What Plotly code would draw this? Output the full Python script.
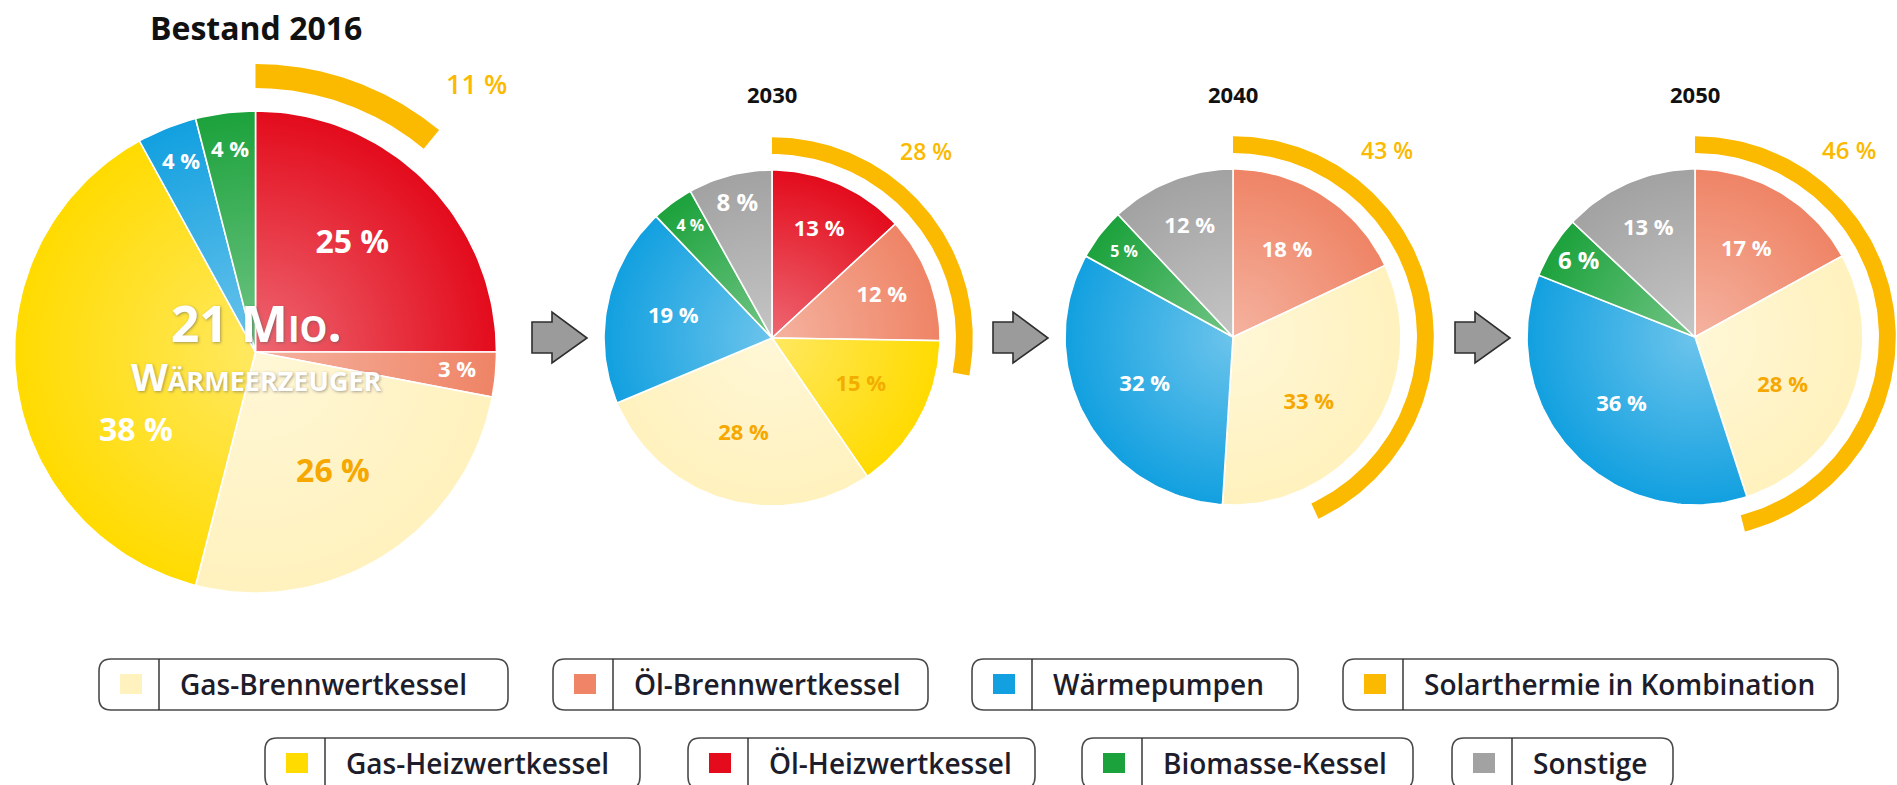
import math
import plotly.graph_objects as go

W, H = 1897, 785

# ------------------------------------------------------------------ data
legend_categories = ["Gas-Brennwertkessel", "Öl-Brennwertkessel", "Wärmepumpen",
                     "Solarthermie in Kombination", "Gas-Heizwertkessel",
                     "Öl-Heizwertkessel", "Biomasse-Kessel", "Sonstige"]
pie_titles = ["Bestand 2016", "2030", "2040", "2050"]

slices_2016 = ["Öl-Heizwertkessel", "Öl-Brennwertkessel", "Gas-Brennwertkessel",
               "Gas-Heizwertkessel", "Wärmepumpen", "Biomasse-Kessel"]
values_2016 = [25, 3, 26, 38, 4, 4]

slices_2030 = ["Öl-Heizwertkessel", "Öl-Brennwertkessel", "Gas-Heizwertkessel",
               "Gas-Brennwertkessel", "Wärmepumpen", "Biomasse-Kessel", "Sonstige"]
values_2030 = [13, 12, 15, 28, 19, 4, 8]

slices_2040 = ["Öl-Brennwertkessel", "Gas-Brennwertkessel", "Wärmepumpen",
               "Biomasse-Kessel", "Sonstige"]
values_2040 = [18, 33, 32, 5, 12]

slices_2050 = ["Öl-Brennwertkessel", "Gas-Brennwertkessel", "Wärmepumpen",
               "Biomasse-Kessel", "Sonstige"]
values_2050 = [17, 28, 36, 6, 13]

solar_share = [11, 28, 43, 46]          # "Solarthermie in Kombination" arc (%)
stock_number = "21 Mio."
stock_unit = "Wärmeerzeuger"

# ------------------------------------------------------------------ styles
COLORS = {
    "Gas-Brennwertkessel": "#FFF2BE",
    "Öl-Brennwertkessel": "#EF8466",
    "Wärmepumpen": "#12A0E0",
    "Solarthermie in Kombination": "#FBB900",
    "Gas-Heizwertkessel": "#FFDB00",
    "Öl-Heizwertkessel": "#E30B1C",
    "Biomasse-Kessel": "#1CA23C",
    "Sonstige": "#A2A2A2",
}
ORANGE_TXT = "#F6A800"
FONT = "Open Sans, Lato, Noto Sans, sans-serif"

# pie geometry in pixels (centre, radius)
PIES = [dict(cx=255.5, cy=352, r=241),
        dict(cx=772, cy=338, r=168),
        dict(cx=1233, cy=337, r=168),
        dict(cx=1695, cy=337, r=168)]
TITLE_Y = [27, 94, 94, 94]
TITLE_SIZE = [32, 22, 22, 22]
ARC_IN, ARC_OUT = 1.095, 1.195
SOLAR_LABEL_POS = (0.915, 1.115)
SOLAR_LABEL_SIZE = [27, 23, 23, 24]
ANGLE_TWEAK = {(0, "Gas-Heizwertkessel"): -27, (2, "Gas-Brennwertkessel"): 7,
               (3, "Gas-Brennwertkessel"): 8, (0, "Öl-Heizwertkessel"): -3}
LABEL_COLOR_OVERRIDE = {(1, "Gas-Heizwertkessel"): "#F2AE00"}

pie_data = [(slices_2016, values_2016), (slices_2030, values_2030),
            (slices_2040, values_2040), (slices_2050, values_2050)]

fig = go.Figure()
layout_axes = {}


def axis_name(i, kind):
    return kind if i == 0 else f"{kind}{i + 1}"


M = 1.45
for i, p in enumerate(PIES):
    cx, cy, r = p["cx"], p["cy"], p["r"]
    left, right = max(0, cx - M * r), min(W, cx + M * r)
    top, bottom = max(0, cy - M * r), min(H, cy + M * r)
    xa = dict(domain=[left / W, right / W], range=[(left - cx) / r, (right - cx) / r],
              visible=False, fixedrange=True, anchor=axis_name(i, "y"))
    ya = dict(domain=[1 - bottom / H, 1 - top / H], range=[-(bottom - cy) / r, (cy - top) / r],
              visible=False, fixedrange=True, anchor=axis_name(i, "x"))
    layout_axes["xaxis" if i == 0 else f"xaxis{i + 1}"] = xa
    layout_axes["yaxis" if i == 0 else f"yaxis{i + 1}"] = ya

# overlay axis in pixel units for arrows, titles and key
layout_axes["xaxis5"] = dict(domain=[0, 1], range=[0, W], visible=False, fixedrange=True, anchor="y5")
layout_axes["yaxis5"] = dict(domain=[0, 1], range=[H, 0], visible=False, fixedrange=True, anchor="x5")


def arc_pts(a0, a1, rad, n):
    pts = []
    for k in range(n + 1):
        t = a0 + (a1 - a0) * k / n
        ang = 2 * math.pi * t
        pts.append((rad * math.sin(ang), rad * math.cos(ang)))
    return pts


for i, (cats, vals) in enumerate(pie_data):
    xr, yr = axis_name(i, "x"), axis_name(i, "y")
    total = float(sum(vals))
    start = 0.0
    lx, ly, ltxt, lsize, lcol = [], [], [], [], []
    for cat, v in zip(cats, vals):
        frac = v / total
        pts = [(0.0, 0.0)] + arc_pts(start, start + frac, 1.0, max(8, int(frac * 240))) + [(0.0, 0.0)]
        fig.add_trace(go.Scatter(
            x=[q[0] for q in pts], y=[q[1] for q in pts], xaxis=xr, yaxis=yr,
            mode="lines", fill="toself", fillcolor=COLORS[cat],
            line=dict(color="white", width=1.6), name=cat,
            hoveron="fills", hoverinfo="text", text=f"{pie_titles[i]}: {cat} {v} %",
            showlegend=False))
        mid = (start + frac / 2) * 360 + ANGLE_TWEAK.get((i, cat), 0)
        rad = 0.6 if v >= 15 else (0.7 if v >= 10 else 0.82)
        if i == 0 and v < 10:
            rad = 0.84
        lx.append(rad * math.sin(math.radians(mid)))
        ly.append(rad * math.cos(math.radians(mid)))
        ltxt.append(f"{v} %")
        if i == 0:
            lsize.append(32 if v >= 10 else 22)
        else:
            lsize.append(22 if v >= 10 else (24 if v >= 6 else 16))
        if (i, cat) in LABEL_COLOR_OVERRIDE:
            lcol.append(LABEL_COLOR_OVERRIDE[(i, cat)])
        elif cat == "Gas-Brennwertkessel":
            lcol.append(ORANGE_TXT)
        else:
            lcol.append("white")
        start += frac

    # soft radial highlight like the reference shading
    circ = arc_pts(0, 1, 1.0, 240)
    fig.add_trace(go.Scatter(
        x=[q[0] for q in circ], y=[q[1] for q in circ], xaxis=xr, yaxis=yr,
        mode="none", fill="toself", fillcolor="rgba(255,255,255,0)",
        fillgradient=dict(type="radial",
                          colorscale=[[0, "rgba(255,255,255,0.38)"], [1, "rgba(255,255,255,0)"]]),
        hoverinfo="skip", showlegend=False))

    # solar thermal arc
    s = solar_share[i] / 100.0
    outer = arc_pts(0, s, ARC_OUT, 120)
    inner = arc_pts(0, s, ARC_IN, 120)[::-1]
    ring = outer + inner + [outer[0]]
    fig.add_trace(go.Scatter(
        x=[q[0] for q in ring], y=[q[1] for q in ring], xaxis=xr, yaxis=yr,
        mode="lines", fill="toself", fillcolor=COLORS["Solarthermie in Kombination"],
        line=dict(width=0, color=COLORS["Solarthermie in Kombination"]),
        hoveron="fills", hoverinfo="text",
        text=f"{pie_titles[i]}: Solarthermie in Kombination {solar_share[i]} %",
        showlegend=False))

    # slice labels
    fig.add_trace(go.Scatter(
        x=lx, y=ly, xaxis=xr, yaxis=yr, mode="text", text=ltxt,
        textposition="middle center",
        textfont=dict(family=FONT, size=lsize, color=lcol, weight="bold"),
        hoverinfo="skip", showlegend=False, cliponaxis=False))

    # solar share label
    fig.add_annotation(x=SOLAR_LABEL_POS[0], y=SOLAR_LABEL_POS[1], xref=xr, yref=yr,
                       text=f"{solar_share[i]} %", showarrow=False,
                       font=dict(family=FONT, size=SOLAR_LABEL_SIZE[i],
                                 color=COLORS["Solarthermie in Kombination"], weight=600))
    # pie title
    fig.add_annotation(x=PIES[i]["cx"], y=TITLE_Y[i], xref="x5", yref="y5",
                       text=f"<b>{pie_titles[i]}</b>", showarrow=False,
                       font=dict(family=FONT, size=TITLE_SIZE[i], color="#111111"))

# centre text of the 2016 pie (one two-line annotation)
fig.add_annotation(x=0.005, y=0.025, xref="x", yref="y",
                   text=(f"<span style='font-size:50px'><b>{stock_number}</b></span>"
                         f"<br><b>{stock_unit}</b>"),
                   showarrow=False,
                   font=dict(family=FONT, size=38, color="white", variant="small-caps",
                             shadow="1px 1px 3px rgba(90,90,90,0.55)"))

# placeholder trace so the pixel overlay axis exists
fig.add_trace(go.Scatter(x=[None], y=[None], xaxis="x5", yaxis="y5", mode="markers",
                         hoverinfo="skip", showlegend=False))

shapes = []
# arrows between the pies
ARROW_X = [532, 993, 1455]
ARROW_CY = 338
for x0 in ARROW_X:
    c = ARROW_CY
    path = (f"M {x0},{c - 16} L {x0 + 20},{c - 16} L {x0 + 20},{c - 26} L {x0 + 55},{c} "
            f"L {x0 + 20},{c + 25} L {x0 + 20},{c + 15} L {x0},{c + 15} Z")
    shapes.append(dict(type="path", path=path, xref="x5", yref="y5",
                       fillcolor="#9B9B9B", line=dict(color="#2e2e2e", width=1.6)))

# key (two rows of rounded boxes)
KEY_ROWS = [dict(top=659, items=[0, 1, 2, 3], lefts=[99, 553, 972, 1343], widths=[409, 375, 326, 495]),
            dict(top=738, items=[4, 5, 6, 7], lefts=[265, 688, 1082, 1452], widths=[375, 347, 331, 221])]
BOX_H, RR = 51, 12
for row in KEY_ROWS:
    y0 = row["top"]
    y1 = y0 + BOX_H
    for idx, x0, w in zip(row["items"], row["lefts"], row["widths"]):
        x1 = x0 + w
        path = (f"M {x0 + RR},{y0} L {x1 - RR},{y0} Q {x1},{y0} {x1},{y0 + RR} "
                f"L {x1},{y1 - RR} Q {x1},{y1} {x1 - RR},{y1} L {x0 + RR},{y1} "
                f"Q {x0},{y1} {x0},{y1 - RR} L {x0},{y0 + RR} Q {x0},{y0} {x0 + RR},{y0} Z")
        shapes.append(dict(type="path", path=path, xref="x5", yref="y5",
                           fillcolor="white", line=dict(color="#4a4a4a", width=1.6)))
        shapes.append(dict(type="line", x0=x0 + 60, x1=x0 + 60, y0=y0, y1=y1,
                           xref="x5", yref="y5", line=dict(color="#2a2a2a", width=1.4)))
        yc = y0 + 25
        cat = legend_categories[idx]
        shapes.append(dict(type="rect", x0=x0 + 21, x1=x0 + 43, y0=yc - 10, y1=yc + 10,
                           xref="x5", yref="y5", fillcolor=COLORS[cat], line=dict(width=0)))
        fig.add_annotation(x=x0 + 79, y=yc, xref="x5", yref="y5", text=cat,
                           showarrow=False, xanchor="left", yanchor="middle",
                           font=dict(family=FONT, size=28, color="#1d1d2b", weight=600))

fig.update_layout(
    width=W, height=H, margin=dict(l=0, r=0, t=0, b=0),
    paper_bgcolor="white", plot_bgcolor="rgba(0,0,0,0)",
    showlegend=False, shapes=shapes, hovermode="closest",
    **layout_axes)

fig.write_html("out.html", config={"displayModeBar": False},
               post_script="document.body.style.margin='0';document.body.style.overflow='hidden';")
